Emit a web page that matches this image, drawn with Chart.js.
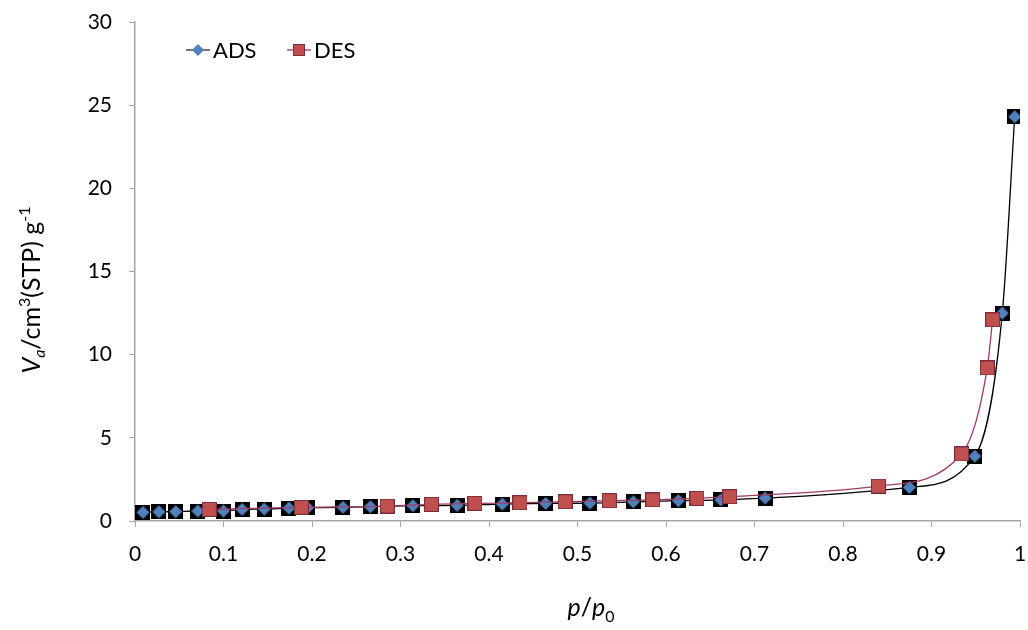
<!DOCTYPE html>
<html lang="en">
<head>
<meta charset="UTF-8">
<title>ADS / DES</title>
<script src="https://cdn.jsdelivr.net/npm/chart.js"></script>
<style>
  html, body { margin: 0; padding: 0; background: #fff; }
  #box { width: 1028px; height: 630px; position: relative; }
</style>
</head>
<body>
<div id="box"><canvas id="grafico"></canvas></div>
<script>
// data
const adsX = [0.009, 0.027, 0.046, 0.071, 0.100, 0.121, 0.146, 0.174, 0.195, 0.235, 0.266, 0.314,
              0.364, 0.415, 0.464, 0.514, 0.563, 0.614, 0.662, 0.712, 0.875, 0.949, 0.980, 0.994];
const adsY = [0.52, 0.55, 0.56, 0.60, 0.60, 0.70, 0.72, 0.78, 0.80, 0.82, 0.86, 0.92,
              0.94, 1.02, 1.06, 1.08, 1.15, 1.22, 1.27, 1.38, 2.02, 3.90, 12.5, 24.3];
const desX = [0.084, 0.188, 0.285, 0.335, 0.384, 0.435, 0.486, 0.536, 0.585, 0.635, 0.672,
              0.840, 0.934, 0.963, 0.969];
const desY = [0.70, 0.82, 0.90, 1.00, 1.06, 1.10, 1.16, 1.22, 1.27, 1.36, 1.46,
              2.10, 4.03, 9.20, 12.1];
const xTicks = [0, 0.1, 0.2, 0.3, 0.4, 0.5, 0.6, 0.7, 0.8, 0.9, 1];
const yTicks = [0, 5, 10, 15, 20, 25, 30];

const FONT = 'Lato, "Open Sans", sans-serif';
const AXIS = '#a6a6a6';

// marcador ADS: quadrado preto com losango azul
function markerAds() {
    const c = document.createElement('canvas');
    c.width = 15; c.height = 15;
    const g = c.getContext('2d');
    g.fillStyle = '#000';
    g.fillRect(0, 0, 15, 15);
    g.fillStyle = '#4f81bd';
    g.beginPath();
    g.moveTo(7.5, 1); g.lineTo(14, 7.5); g.lineTo(7.5, 14); g.lineTo(1, 7.5);
    g.closePath();
    g.fill();
    return c;
}

function markerDes() {
    const c = document.createElement('canvas');
    c.width = 15; c.height = 15;
    const g = c.getContext('2d');
    g.fillStyle = '#c0504d';
    g.fillRect(0, 0, 15, 15);
    g.strokeStyle = '#7a2b3c';
    g.lineWidth = 1;
    g.strokeRect(0.5, 0.5, 14, 14);
    return c;
}

function pts(xs, ys) {
    return xs.map((x, i) => ({ x: x, y: ys[i] }));
}

// texto com índices (sub/sobrescritos)
function richText(ctx, parts, cx, cy) {
    let total = 0;
    parts.forEach(p => {
        ctx.font = `${p.italic ? 'italic ' : ''}${p.size}px ${FONT}`;
        p.w = ctx.measureText(p.t).width;
        total += p.w;
    });
    let x = cx - total / 2;
    ctx.textBaseline = 'alphabetic';
    ctx.textAlign = 'left';
    parts.forEach(p => {
        ctx.font = `${p.italic ? 'italic ' : ''}${p.size}px ${FONT}`;
        ctx.fillText(p.t, x, cy + (p.dy || 0));
        x += p.w;
    });
}

const extras = {
    id: 'extras',
    afterDraw(chart) {
        const ctx = chart.ctx;
        ctx.save();
        ctx.fillStyle = '#000';

        // título eixo y
        ctx.save();
        ctx.translate(40, 290);
        ctx.rotate(-Math.PI / 2);
        richText(ctx, [
            { t: 'V', italic: true, size: 25 },
            { t: 'a', italic: true, size: 16, dy: 5 },
            { t: '/cm', size: 25 },
            { t: '3', size: 16, dy: -10 },
            { t: '(STP) g', size: 25 },
            { t: '-1', size: 16, dy: -10 }
        ], 0, 0);
        ctx.restore();

        // título eixo x
        richText(ctx, [
            { t: 'p', italic: true, size: 25 },
            { t: '/', size: 25 },
            { t: 'p', italic: true, size: 25 },
            { t: '0', size: 16, dy: 6 }
        ], 591, 616);

        // legenda
        const ly = 50;
        ctx.lineWidth = 1.3;
        ctx.strokeStyle = '#2b2b3a';
        ctx.beginPath(); ctx.moveTo(186, ly); ctx.lineTo(210, ly); ctx.stroke();
        ctx.fillStyle = '#4f81bd';
        ctx.beginPath();
        ctx.moveTo(198, ly - 6); ctx.lineTo(204, ly); ctx.lineTo(198, ly + 6); ctx.lineTo(192, ly);
        ctx.closePath(); ctx.fill();

        ctx.strokeStyle = '#a33a65';
        ctx.beginPath(); ctx.moveTo(287, ly); ctx.lineTo(311, ly); ctx.stroke();
        ctx.fillStyle = '#c0504d';
        ctx.fillRect(293, ly - 6, 12, 12);
        ctx.strokeStyle = '#7a2b3c';
        ctx.lineWidth = 1;
        ctx.strokeRect(293.5, ly - 5.5, 11, 11);

        ctx.fillStyle = '#000';
        ctx.font = `22px ${FONT}`;
        ctx.textBaseline = 'middle';
        ctx.fillText('ADS', 213, ly + 1);
        ctx.fillText('DES', 314, ly + 1);
        ctx.restore();
    }
};

document.addEventListener('DOMContentLoaded', () => {
    const ctx = document.getElementById('grafico').getContext('2d');
    new Chart(ctx, {
        type: 'scatter',
        data: {
            datasets: [{
                label: 'ADS',
                data: pts(adsX, adsY),
                showLine: true,
                borderColor: '#000',
                borderWidth: 1.3,
                pointStyle: markerAds(),
                cubicInterpolationMode: 'monotone',
                order: 2
            }, {
                label: 'DES',
                data: pts(desX, desY),
                showLine: true,
                borderColor: '#a33a65',
                borderWidth: 1.3,
                pointStyle: markerDes(),
                cubicInterpolationMode: 'monotone',
                order: 1
            }]
        },
        options: {
            responsive: true,
            maintainAspectRatio: false,
            animation: false,
            layout: { padding: { top: 22, right: 8, left: 0, bottom: 0 } },
            plugins: {
                legend: { display: false },
                tooltip: { enabled: false }
            },
            scales: {
                x: {
                    type: 'linear',
                    min: 0,
                    max: 1,
                    afterBuildTicks: s => { s.ticks = xTicks.map(v => ({ value: v })); },
                    afterFit: s => {
                        s.height = 109;
                        s.paddingLeft = 0;
                        s.paddingRight = 0;
                    },
                    grid: { drawOnChartArea: false, drawTicks: true, tickLength: 6, color: AXIS },
                    border: { color: AXIS, width: 1.5 },
                    ticks: {
                        color: '#000',
                        font: { family: FONT, size: 21 },
                        padding: 15,
                        maxRotation: 0,
                        callback: v => String(Number(v.toFixed(1)))
                    }
                },
                y: {
                    min: 0,
                    max: 30,
                    afterBuildTicks: s => { s.ticks = yTicks.map(v => ({ value: v })); },
                    afterFit: s => {
                        s.width = 135;
                        s.paddingTop = 0;
                        s.paddingBottom = 0;
                    },
                    grid: { drawOnChartArea: false, drawTicks: true, tickLength: 6, color: AXIS },
                    border: { color: AXIS, width: 1.5 },
                    ticks: {
                        color: '#000',
                        font: { family: FONT, size: 21 },
                        padding: 17
                    }
                }
            }
        },
        plugins: [extras]
    });
});
</script>
</body>
</html>
